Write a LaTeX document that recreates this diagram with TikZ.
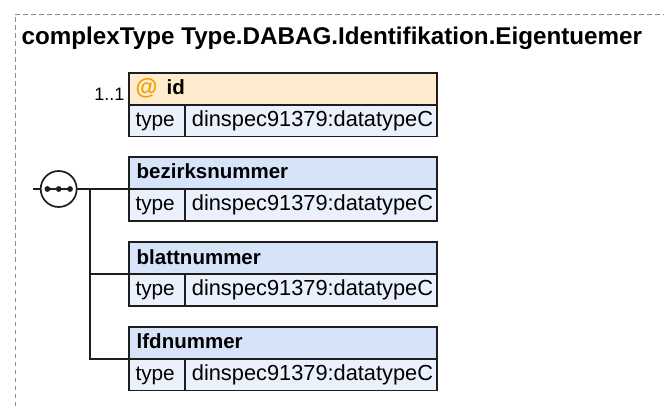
\documentclass[tikz,border=0pt]{standalone}
\usepackage{fontspec}
\setmainfont{Liberation Sans}
\usetikzlibrary{calc}
\definecolor{elemfill}{RGB}{214,227,249}
\definecolor{typefill}{RGB}{234,241,252}
\definecolor{attrfill}{RGB}{255,236,206}
\definecolor{attrat}{RGB}{240,158,0}
\definecolor{boxline}{RGB}{30,30,30}
\definecolor{bordergray}{RGB}{140,140,140}
\tikzset{
  boxbase/.style={draw=boxline, line width=1.7pt, inner sep=0pt, outer sep=0pt, anchor=north west, minimum height=31.8pt},
  hdr/.style={boxbase, fill=elemfill, minimum width=308pt},
  attrhdr/.style={boxbase, fill=attrfill, minimum width=308pt},
  typecell/.style={boxbase, fill=typefill, minimum width=56pt},
  valcell/.style={boxbase, fill=typefill, minimum width=252pt},
  typelbl/.style={anchor=base west, inner sep=0pt, font=\fontsize{20.8}{24}\selectfont},
  vallbl/.style={anchor=base west, inner sep=0pt, font=\fontsize{21.8}{24}\selectfont},
  blbl/.style={anchor=base west, inner sep=0pt, font=\fontsize{20.5}{24}\selectfont\bfseries},
  conn/.style={draw=boxline, line width=1.7pt},
  seqcirc/.style={circle, draw=boxline, line width=1.7pt, fill=white, minimum size=36pt, inner sep=0pt, outer sep=0pt},
}
\begin{document}
\begin{tikzpicture}[x=1pt,y=-1pt]
\useasboundingbox (0,0) rectangle (664,406);
% dashed frame
\draw[bordergray, line width=1pt, dash pattern=on 4.5pt off 3.5pt] (15,406) -- (15,14.3) -- (664,14.3);
% title
\node[anchor=base west, inner sep=0pt, font=\fontsize{24.2}{28}\selectfont\bfseries] (title) at (21.5,44.3) {complexType Type.DABAG.Identifikation.Eigentuemer};
% attribute id
\node[attrhdr] (idh) at (129,73) {};
\node[typecell] (idt) at (idh.south west) {};
\node[valcell] (idv) at (idt.north east) {};
\node[anchor=base west, inner sep=0pt, text=attrat, font=\fontsize{22.5}{26}\selectfont\bfseries] (idat) at ($(idh.north west)+(6.5,21.7)$) {@};
\node[blbl] (idname) at ($(idh.north west)+(37.5,21.7)$) {id};
\node[typelbl] (idtl) at ($(idt.north west)+(6.3,21.3)$) {type};
\node[vallbl] (idvl) at ($(idv.north west)+(6.7,21.3)$) {dinspec91379:datatypeC};
\node[anchor=base east, inner sep=0pt, font=\fontsize{18}{21}\selectfont] (idcard) at (124.5,100.7) {1..1};
% elements
\node[hdr] (bezh) at (129,157.3) {};
\node[typecell] (bezt) at (bezh.south west) {};
\node[valcell] (bezv) at (bezt.north east) {};
\node[blbl] (bezl) at ($(bezh.north west)+(7.5,21.7)$) {bezirksnummer};
\node[typelbl] (beztl) at ($(bezt.north west)+(6.3,21.3)$) {type};
\node[vallbl] (bezvl) at ($(bezv.north west)+(6.7,21.3)$) {dinspec91379:datatypeC};

\node[hdr] (blatth) at (129,242.3) {};
\node[typecell] (blattt) at (blatth.south west) {};
\node[valcell] (blattv) at (blattt.north east) {};
\node[blbl] (blattl) at ($(blatth.north west)+(7.5,21.7)$) {blattnummer};
\node[typelbl] (blatttl) at ($(blattt.north west)+(6.3,21.3)$) {type};
\node[vallbl] (blattvl) at ($(blattv.north west)+(6.7,21.3)$) {dinspec91379:datatypeC};

\node[hdr] (lfdh) at (129,327) {};
\node[typecell] (lfdt) at (lfdh.south west) {};
\node[valcell] (lfdv) at (lfdt.north east) {};
\node[blbl] (lfdl) at ($(lfdh.north west)+(7.5,21.7)$) {lfdnummer};
\node[typelbl] (lfdtl) at ($(lfdt.north west)+(6.3,21.3)$) {type};
\node[vallbl] (lfdvl) at ($(lfdv.north west)+(6.7,21.3)$) {dinspec91379:datatypeC};
% sequence compositor
\node[seqcirc] (seq) at (58.7,189) {};
\coordinate (seqin) at (32.7,189);
\coordinate (junc) at (90.3,189);
\draw[conn] (seqin) -- (seq.west);
\draw[conn] (seq.east) -- (bezh.south west);
\draw[conn] (junc) |- (lfdh.south west);
\draw[conn] (junc |- blatth.south west) -- (blatth.south west);
\draw[conn] ($(seq.center)+(-13.5,0)$) -- ($(seq.center)+(13.5,0)$);
\foreach \dx in {-11.3,0,11.3} \fill[boxline] ($(seq.center)+(\dx,0)$) circle (2.9pt);
\end{tikzpicture}
\end{document}
